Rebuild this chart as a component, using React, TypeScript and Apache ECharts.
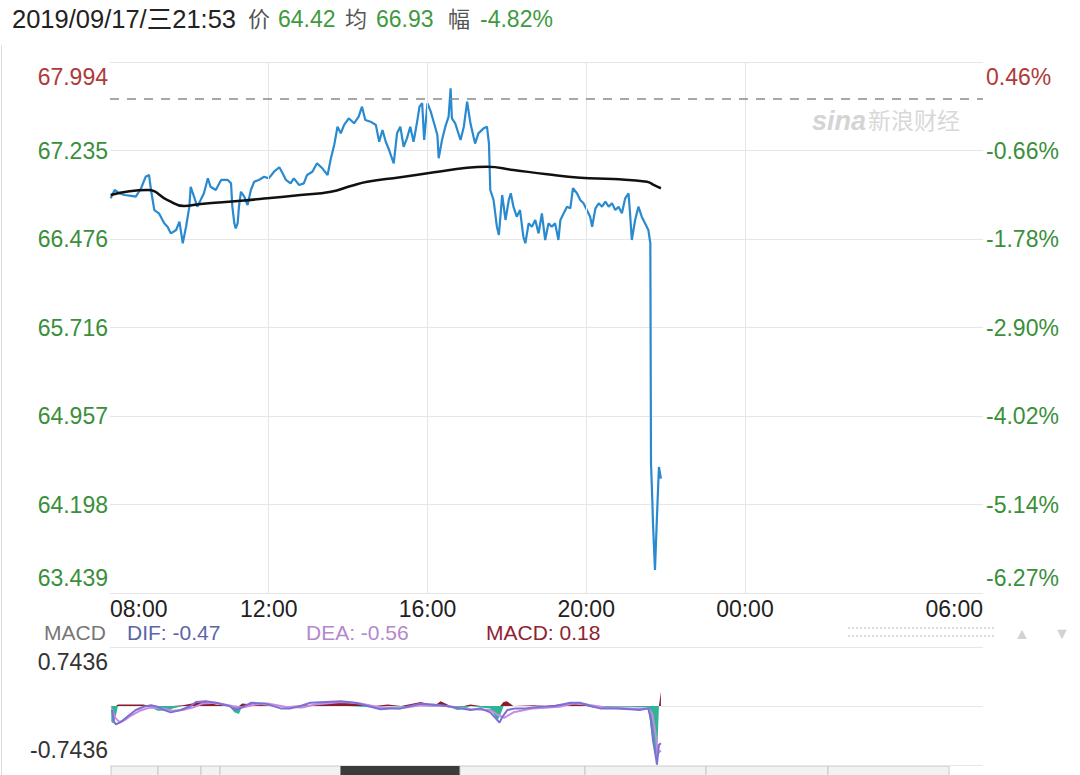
import React, { useEffect, useRef } from "react";
import * as echarts from "echarts";

const FONT = 'Liberation Sans, Arial, "Noto Sans CJK SC", sans-serif';

const PRICE_MIN = 63.439;
const PRICE_MAX = 67.994;
const PREV_CLOSE = 67.683;
const MACD_LIMIT = 0.7436;

const leftTickLabels = ["63.439", "64.198", "64.957", "65.716", "66.476", "67.235", "67.994"];
const rightTickLabels = ["-6.27%", "-5.14%", "-4.02%", "-2.90%", "-1.78%", "-0.66%", "0.46%"];
const xLabelTimes = ["08:00", "12:00", "16:00", "20:00", "00:00", "06:00"];
const xGridTimes = ["12:00", "16:00", "20:00", "00:00"];

const priceTimes = [
  "08:01","08:07","08:14","08:22","08:32","08:39","08:47","08:54","08:59","09:02",
  "09:07","09:14","09:22","09:27","09:32","09:40","09:45","09:50","09:55","10:00",
  "10:02","10:07","10:12","10:17","10:22","10:28","10:32","10:40","10:48","10:58",
  "11:03","11:05","11:08","11:10","11:13","11:15","11:18","11:23","11:28","11:33",
  "11:38","11:45","11:53","12:00","12:08","12:16","12:21","12:26","12:33","12:38",
  "12:46","12:53","12:58","13:06","13:13","13:21","13:29","13:34","13:39","13:44",
  "13:49","13:54","14:01","14:09","14:16","14:21","14:26","14:34","14:42","14:47",
  "14:52","14:57","15:02","15:09","15:14","15:19","15:24","15:29","15:34","15:39",
  "15:44","15:48","15:52","15:55","16:00","16:05","16:10","16:15","16:17","16:22",
  "16:27","16:32","16:35","16:37","16:42","16:50","16:55","17:00","17:05","17:12",
  "17:17","17:25","17:30","17:33","17:35","17:40","17:45","17:48","17:53","17:58",
  "18:03","18:06","18:10","18:15","18:20","18:25","18:28","18:33","18:38","18:43",
  "18:48","18:53","18:58","19:03","19:08","19:13","19:18","19:21","19:26","19:31",
  "19:36","19:40","19:46","19:51","19:56","20:01","20:06","20:09","20:14","20:19",
  "20:24","20:29","20:34","20:39","20:44","20:49","20:54","20:59","21:04","21:06",
  "21:09","21:14","21:19","21:24","21:29","21:34","21:37","21:38","21:40","21:41",
  "21:44","21:47","21:50","21:53"
];
const priceValues = [
  66.825,66.896,66.868,66.853,66.845,66.839,66.911,67.010,67.025,66.896,
  66.724,66.696,66.610,66.581,66.524,66.553,66.624,66.439,66.581,66.753,
  66.924,66.839,66.753,66.810,66.868,66.996,66.924,66.896,66.982,66.982,
  66.953,66.753,66.610,66.567,66.610,66.753,66.881,66.839,66.767,66.896,
  66.967,66.982,67.010,66.996,67.053,67.091,67.039,66.982,66.953,66.996,
  66.939,66.953,67.025,67.053,67.125,67.082,67.025,67.168,67.282,67.439,
  67.382,67.454,67.511,67.468,67.525,67.611,67.497,67.482,67.454,67.310,
  67.411,67.310,67.239,67.125,67.382,67.439,67.267,67.339,67.439,67.310,
  67.468,67.611,67.640,67.325,67.640,67.568,67.468,67.368,67.168,67.325,
  67.439,67.525,67.768,67.511,67.468,67.325,67.439,67.654,67.468,67.294,
  67.382,67.425,67.439,67.294,66.896,66.810,66.581,66.510,66.853,66.639,
  66.810,66.868,66.753,66.667,66.724,66.495,66.439,66.610,66.581,66.639,
  66.524,66.696,66.467,66.610,66.581,66.610,66.467,66.639,66.696,66.753,
  66.739,66.911,66.868,66.810,66.782,66.724,66.667,66.581,66.739,66.782,
  66.753,66.796,66.753,66.782,66.724,66.753,66.696,66.825,66.868,66.724,
  66.467,66.639,66.753,66.667,66.610,66.553,66.439,64.554,64.237,64.040,
  63.636,64.091,64.520,64.420
];

const avgTimes = [
  "08:01","08:57","09:27","09:52","10:17","11:18","11:58","12:48","13:34","14:04",
  "14:29","15:19","16:10","17:00","17:30","18:10","19:01","19:51","20:41","21:32",
  "21:42","21:53"
];
const avgValues = [
  66.853,66.896,66.810,66.759,66.776,66.804,66.825,66.853,66.881,66.930,
  66.967,67.005,67.048,67.087,67.096,67.068,67.031,67.002,66.990,66.967,
  66.939,66.911
];

const difTimes = [
  "08:03","08:06","08:09","08:17","08:27","08:39","08:51","09:02","09:12","09:22",
  "09:32","09:47","10:02","10:10","10:25","10:40","11:00","11:10","11:21","11:33",
  "11:55","12:18","12:33","12:48","13:03","13:49","14:11","14:34","14:49","15:04",
  "15:19","15:34","15:49","16:20","16:35","16:50","17:05","17:20","17:35","17:46",
  "17:49","17:53","18:01","18:13","18:28","18:51","19:13","19:36","19:51","20:06",
  "20:21","20:44","21:06","21:21","21:34","21:38","21:41","21:46","21:47","21:50",
  "21:53"
];
const difValues = [
  -0.05,-0.20,-0.23,-0.20,-0.13,-0.05,-0.01,0.01,-0.01,-0.05,
  -0.08,-0.05,0.0,0.05,0.06,0.04,0.0,-0.05,-0.01,0.04,
  0.03,-0.03,-0.03,0.0,0.04,0.06,0.04,-0.01,-0.04,-0.03,
  -0.03,0.0,0.03,0.01,-0.01,-0.03,-0.05,-0.03,-0.08,-0.18,
  -0.21,-0.14,-0.05,-0.03,-0.03,-0.01,0.0,0.04,0.04,0.0,
  -0.03,-0.03,-0.04,-0.05,-0.03,-0.18,-0.43,-0.68,-0.74,-0.49,
  -0.47
];

const deaTimes = [
  "08:03","08:08","08:14","08:22","08:32","08:45","09:00","09:20","09:35","09:50",
  "10:05","10:20","10:40","11:05","11:20","11:40","12:00","12:25","12:50","13:10",
  "13:50","14:20","14:50","15:20","15:50","16:30","17:05","17:35","17:48","17:56",
  "18:10","18:40","19:20","19:40","20:00","20:30","21:10","21:34","21:40","21:45",
  "21:48","21:53"
];
const deaValues = [
  -0.04,-0.15,-0.20,-0.18,-0.12,-0.06,-0.02,-0.03,-0.06,-0.05,
  -0.02,0.03,0.04,0.0,-0.02,0.02,0.03,-0.01,-0.02,0.02,
  0.05,0.03,-0.02,-0.03,0.01,0.0,-0.04,-0.05,-0.12,-0.15,
  -0.08,-0.03,-0.01,0.03,0.02,-0.02,-0.03,-0.03,-0.10,-0.35,
  -0.60,-0.56
];

const histTimes = [
  "08:02","08:05","08:09","08:12","08:30","08:50","09:02","09:12","09:25","09:35",
  "09:50","10:10","10:25","10:40","11:00","11:08","11:15","11:20","11:35","12:10",
  "12:30","13:00","13:40","14:00","14:40","15:00","15:20","15:50","16:10","16:20",
  "16:35","16:45","16:55","17:05","17:20","17:35","17:40","17:46","17:50","17:55",
  "18:00","18:10","18:40","19:00","19:40","20:00","20:10","20:40","21:10","21:32",
  "21:35","21:38","21:42","21:46","21:48","21:50","21:53"
];
const histValues = [
  -0.20,-0.22,-0.12,0.02,0.02,0.02,-0.02,-0.06,-0.06,-0.03,
  0.01,0.04,0.05,0.02,0.0,-0.08,-0.10,0.03,0.02,0.0,
  -0.01,0.01,0.04,0.04,-0.02,0.02,-0.01,0.05,-0.01,0.06,
  -0.02,-0.05,-0.04,0.02,-0.02,-0.03,-0.10,-0.18,-0.12,0.05,
  0.06,0.0,0.01,0.0,0.04,0.03,-0.02,-0.01,-0.01,-0.02,
  -0.10,-0.30,-0.50,-0.70,-0.45,0.0,0.18
];

const toMin = (s: string) => {
  const [h, m] = s.split(":").map(Number);
  let v = h * 60 + m - 480;
  if (v < 0) v += 1440;
  return v;
};
const pairs = (ts: string[], vs: number[]) => ts.map((t, i) => [toMin(t), vs[i]]);

export default function App() {
  const ref = useRef<HTMLDivElement>(null);
  useEffect(() => {
    if (!ref.current) return;
    const chart = echarts.init(ref.current, null, { renderer: "svg" });
    const labelMins = xLabelTimes.map(toMin);
    const GREEN = "#3a8f3a";
    const RED = "#b03a3a";
    const txt = (x: number, y: number, text: string, fill: string, size = 23, extra: any = {}) => ({
      type: "text",
      x,
      y,
      silent: true,
      style: { text, fill, fontSize: size, fontFamily: FONT, verticalAlign: "middle", ...extra },
    });
    const barSegs = [
      [111, 158], [158, 201], [201, 220], [220, 341], [341, 460], [460, 585], [585, 706], [706, 828], [828, 949],
    ];
    const option: any = {
      animation: false,
      grid: [
        { left: 110, right: 97, top: 62, height: 531 },
        { left: 110, right: 97, top: 647, height: 118 },
      ],
      xAxis: [
        {
          type: "value", gridIndex: 0, min: 0, max: 1320, interval: 120,
          axisLine: { show: false }, axisTick: { show: false }, splitLine: { show: false },
          axisLabel: {
            fontSize: 23, color: "#222", fontFamily: FONT, margin: 4,
            alignMinLabel: "left", alignMaxLabel: "right",
            formatter: (v: number) => {
              const i = labelMins.indexOf(Math.round(v));
              return i >= 0 ? xLabelTimes[i] : "";
            },
          },
        },
        { type: "value", gridIndex: 1, min: 0, max: 1320, show: false },
      ],
      yAxis: [
        {
          type: "value", gridIndex: 0, min: 0, max: 6, interval: 1, position: "left",
          axisLine: { show: false }, axisTick: { show: false },
          splitLine: { lineStyle: { color: "#e6e6e6", width: 1 } },
          axisLabel: {
            margin: 2, fontFamily: FONT,
            verticalAlignMaxLabel: "top", verticalAlignMinLabel: "bottom",
            formatter: (v: number) => {
              const i = Math.round(v);
              return (i === 6 ? "{r|" : "{g|") + leftTickLabels[i] + "}";
            },
            rich: {
              r: { color: RED, fontSize: 23, lineHeight: 30, fontFamily: FONT },
              g: { color: GREEN, fontSize: 23, lineHeight: 30, fontFamily: FONT },
            },
          },
        },
        {
          type: "value", gridIndex: 0, min: 0, max: 6, interval: 1, position: "right",
          axisLine: { show: false }, axisTick: { show: false }, splitLine: { show: false },
          axisLabel: {
            margin: 3, fontFamily: FONT,
            verticalAlignMaxLabel: "top", verticalAlignMinLabel: "bottom",
            formatter: (v: number) => {
              const i = Math.round(v);
              return (i === 6 ? "{r|" : "{g|") + rightTickLabels[i] + "}";
            },
            rich: {
              r: { color: RED, fontSize: 23, lineHeight: 30, fontFamily: FONT },
              g: { color: GREEN, fontSize: 23, lineHeight: 30, fontFamily: FONT },
            },
          },
        },
        { type: "value", gridIndex: 0, min: PRICE_MIN, max: PRICE_MAX, show: false },
        {
          type: "value", gridIndex: 1, min: -MACD_LIMIT, max: MACD_LIMIT, interval: MACD_LIMIT,
          axisLine: { show: false }, axisTick: { show: false },
          splitLine: { lineStyle: { color: "#e6e6e6", width: 1 } },
          axisLabel: {
            margin: 2, fontSize: 23, color: "#333", fontFamily: FONT, lineHeight: 30,
            verticalAlignMaxLabel: "top", verticalAlignMinLabel: "bottom",
            formatter: (v: number) => (Math.abs(v) < 1e-6 ? "" : v > 0 ? String(MACD_LIMIT) : String(-MACD_LIMIT)),
          },
        },
      ],
      series: [
        {
          type: "line", xAxisIndex: 0, yAxisIndex: 2, data: [], z: 1, silent: true,
          markLine: {
            silent: true, symbol: ["none", "none"], label: { show: false },
            lineStyle: { color: "#e6e6e6", width: 1, type: "solid" },
            data: xGridTimes.map((t) => ({ xAxis: toMin(t) })),
          },
        },
        {
          type: "line", xAxisIndex: 0, yAxisIndex: 2, data: [], z: 2, silent: true,
          markLine: {
            silent: true, symbol: ["none", "none"], label: { show: false },
            lineStyle: { color: "#8a8a8a", width: 1.5, type: [9, 8] },
            data: [{ yAxis: PREV_CLOSE }],
          },
        },
        {
          name: "price", type: "line", xAxisIndex: 0, yAxisIndex: 2, z: 4,
          data: pairs(priceTimes, priceValues), showSymbol: false, symbol: "none",
          lineStyle: { color: "#2a8ad0", width: 2.2 },
        },
        {
          name: "avg", type: "line", xAxisIndex: 0, yAxisIndex: 2, z: 5,
          data: pairs(avgTimes, avgValues), showSymbol: false, symbol: "none", smooth: true,
          lineStyle: { color: "#111", width: 2.5 },
        },
        {
          name: "histNeg", type: "line", xAxisIndex: 1, yAxisIndex: 3, z: 2,
          data: histTimes.map((t, i) => [toMin(t), Math.min(0, histValues[i])]),
          showSymbol: false, symbol: "none",
          lineStyle: { width: 0 }, areaStyle: { color: "#2fb594", opacity: 1 },
        },
        {
          name: "histPos", type: "line", xAxisIndex: 1, yAxisIndex: 3, z: 2,
          data: histTimes.map((t, i) => [toMin(t), Math.max(0, histValues[i])]),
          showSymbol: false, symbol: "none",
          lineStyle: { width: 0 }, areaStyle: { color: "#8b1c2c", opacity: 1 },
        },
        {
          name: "DEA", type: "line", xAxisIndex: 1, yAxisIndex: 3, z: 3,
          data: pairs(deaTimes, deaValues), showSymbol: false, symbol: "none",
          lineStyle: { color: "#c98ae0", width: 2 },
        },
        {
          name: "DIF", type: "line", xAxisIndex: 1, yAxisIndex: 3, z: 4,
          data: pairs(difTimes, difValues), showSymbol: false, symbol: "none",
          lineStyle: { color: "#7c6fd6", width: 2 },
        },
      ],
      graphic: [
        { type: "line", silent: true, shape: { x1: 1.5, y1: 45, x2: 1.5, y2: 775 }, style: { stroke: "#dcdcdc", lineWidth: 1 } },
        txt(12, 19, "2019/09/17/三21:53", "#222", 25.5),
        txt(248, 19, "价", "#555", 22),
        txt(278, 19, "64.42", "#3f9a3f", 23),
        txt(345, 19, "均", "#555", 22),
        txt(376, 19, "66.93", "#3f9a3f", 23),
        txt(448, 19, "幅", "#555", 22),
        txt(480, 19, "-4.82%", "#3f9a3f", 23),
        txt(812, 121, "sina", "#d4d4d4", 27, { fontStyle: "italic", fontWeight: "bold" }),
        txt(868, 121, "新浪财经", "#d8d8d8", 23),
        txt(44, 632, "MACD", "#777", 21),
        txt(127, 632, "DIF: -0.47", "#5c64a8", 21),
        txt(306, 632, "DEA: -0.56", "#b488cc", 21),
        txt(486, 632, "MACD: 0.18", "#8e2332", 21),
        { type: "line", silent: true, shape: { x1: 848, y1: 628, x2: 995, y2: 628 }, style: { stroke: "#cfcfcf", lineWidth: 1.5, lineDash: [2, 2] } },
        { type: "line", silent: true, shape: { x1: 848, y1: 636, x2: 995, y2: 636 }, style: { stroke: "#cfcfcf", lineWidth: 1.5, lineDash: [2, 2] } },
        txt(1014, 633, "▲", "#d2d2d2", 16),
        txt(1054, 633, "▼", "#d2d2d2", 16),
        ...barSegs.map(([a, b], i) => ({
          type: "rect", silent: true,
          shape: { x: a, y: 766, width: b - a, height: 12 },
          style: { fill: i === 4 ? "#3b3b3b" : "#f2f2f2", stroke: i === 4 ? "#3b3b3b" : "#c8c8c8", lineWidth: 1 },
        })),
      ],
    };
    chart.setOption(option);
    return () => chart.dispose();
  }, []);
  return (
    <div
      ref={ref}
      style={{ position: "fixed", left: 0, top: 0, width: 1080, height: 775, background: "#fff" }}
    />
  );
}
